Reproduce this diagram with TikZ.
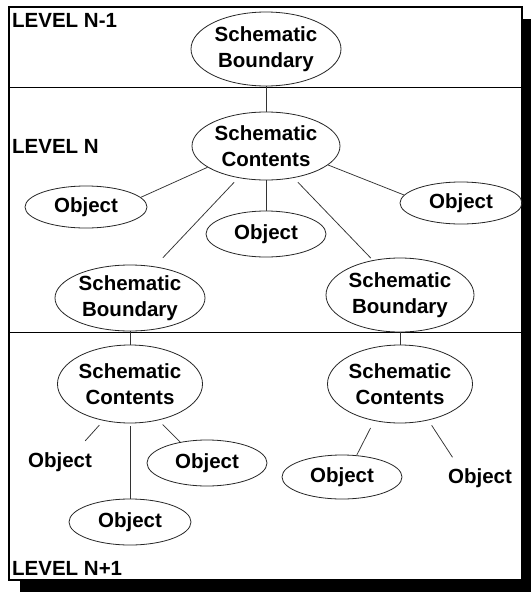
\documentclass[tikz,border=0pt]{standalone}
\usepackage{fontspec}
\setmainfont{Liberation Sans}
\usetikzlibrary{shapes.geometric}
\begin{document}
\begin{tikzpicture}[x=1pt,y=-1pt,
  lbl/.style={font=\fontsize{20.5pt}{26pt}\selectfont\bfseries, align=center},
  oval/.style={lbl, ellipse, draw=black!85, line width=0.8pt, inner sep=0pt},
  bare/.style={lbl, ellipse, inner sep=0pt, minimum width=122pt, minimum height=46pt},
  link/.style={draw=black!80, line width=0.75pt},
  level/.style={font=\fontsize{20.5pt}{26pt}\selectfont\bfseries, anchor=west, inner sep=0pt}]
\useasboundingbox (0,0) rectangle (531,592);
% drop shadow behind the framed page
\fill[black] (20,19) rectangle (531,592);
\draw[fill=white, line width=1.5pt] (9,7) rectangle (522,580);
% level separators
\draw[line width=1pt] (9,87) -- (522,87);
\draw[line width=1pt] (9,332) -- (522,332);

% level captions
\node[level] (lvA) at (12,20) {LEVEL N-1};
\node[level] (lvB) at (12,146) {LEVEL N};
\node[level] (lvC) at (12,568) {LEVEL N+1};

% level N-1
\node[oval, minimum width=150pt, minimum height=74pt] (topB) at (266,49) {Schematic\\Boundary};
% level N
\node[oval, minimum width=148pt, minimum height=68pt] (contN) at (266,146) {Schematic\\Contents};
\node[oval, minimum width=122pt, minimum height=42pt] (objL) at (86,207) {Object};
\node[oval, minimum width=120pt, minimum height=46pt] (objC) at (266,234) {Object};
\node[oval, minimum width=122pt, minimum height=42pt] (objR) at (461,203) {Object};
\node[oval, minimum width=150pt, minimum height=66pt] (boundL) at (130,298) {Schematic\\Boundary};
\node[oval, minimum width=148pt, minimum height=74pt] (boundR) at (400,295) {Schematic\\Boundary};
% level N+1
\node[oval, minimum width=144pt, minimum height=78pt] (contL) at (130,384) {Schematic\\Contents};
\node[oval, minimum width=140pt, minimum height=78pt] (contR) at (400,384) {Schematic\\Contents};
\node[bare] (objTL) at (60,462) {Object};
\node[oval, minimum width=120pt, minimum height=46pt] (objE) at (207,463) {Object};
\node[oval, minimum width=122pt, minimum height=46pt] (objB) at (130,522) {Object};
\node[oval, minimum width=120pt, minimum height=44pt] (objRE) at (342,477) {Object};
\node[bare] (objTR) at (480,478) {Object};

% connectors
\draw[link] (topB) -- (contN);
\draw[link] (contN.200) -- (objL.10);
\draw[link] (contN) -- (objC);
\draw[link] (contN.343) -- (objR.172);
\draw[link, shorten <=6pt, shorten >=12pt] (contN.229) -- (boundL.52);
\draw[link, shorten <=6pt, shorten >=3pt] (contN.311) -- (boundR.128);
\draw[link] (boundL) -- (contL);
\draw[link] (boundR) -- (contR);
\draw[link, shorten <=6pt] (contL.234) -- (objTL.40);
\draw[link, shorten <=6pt] (contL.308) -- (objE.142);
\draw[link, shorten <=3pt] (contL) -- (objB);
\draw[link, shorten <=8pt] (contR.235) -- (objRE.56);
\draw[link, shorten <=6pt] (contR.308) -- (objTR.143);
\end{tikzpicture}
\end{document}
